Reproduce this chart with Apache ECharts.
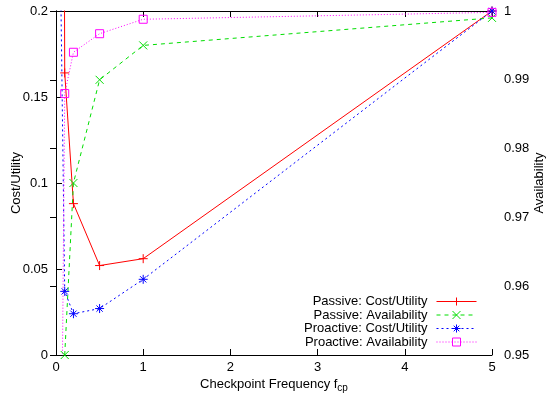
<!DOCTYPE html>
<html><head><meta charset="utf-8">
<script src="https://cdn.jsdelivr.net/npm/echarts@6/dist/echarts.min.js"></script>
<style>html,body{margin:0;padding:0;background:#fff}#c{width:548px;height:396px}</style>
</head><body><div id="c"></div>
<script>
var freqs = [0.05, 0.1, 0.2, 0.5, 1, 5];
var passiveCost = [1.0, 0.164, 0.088, 0.052, 0.056, 0.2];
var passiveAvail = [0.85, 0.95, 0.975, 0.990, 0.995, 0.999];
var proactiveCost = [0.23, 0.037, 0.024, 0.027, 0.044, 0.2];
var proactiveAvail = [0.914, 0.988, 0.994, 0.9967, 0.9988, 0.9998];
var seriesNames = ['Passive: Cost/Utility', 'Passive: Availability', 'Proactive: Cost/Utility', 'Proactive: Availability'];

function pts(ys){ return freqs.map(function(x,i){ return [x, ys[i]]; }); }
var FONT = '"Liberation Sans", Arial, sans-serif';
var FS = 13;
var chart = echarts.init(document.getElementById('c'), null, {renderer:'canvas'});
var plusPath = 'path://M0,5L10,5M5,0L5,10';
var crossPath = 'path://M0,0L10,10M10,0L0,10';
var starPath = 'path://M0,5L10,5M5,0L5,10M1.5,1.5L8.5,8.5M8.5,1.5L1.5,8.5';
function mk(name, data, yi, color, type, symbol, size){
  return {
    name: name, type: 'line', yAxisIndex: yi, data: data,
    symbol: symbol, symbolSize: size, showAllSymbol: true,
    lineStyle: {color: color, width: 1, type: type},
    itemStyle: {color: 'transparent', borderColor: color, borderWidth: 1},
    clip: true, animation: false
  };
}
chart.setOption({
  animation: false,
  grid: {left: 56, right: 56, top: 11, bottom: 41, containLabel: false, outerBoundsMode: 'none'},
  legend: {
    orient: 'vertical', right: 71, top: 295, align: 'right',
    itemWidth: 40, itemHeight: 10, itemGap: 0.5, padding: 0,
    lineStyle: {width: 1},
    itemStyle: {borderWidth: 1},
    textStyle: {fontFamily: FONT, fontSize: FS, lineHeight: 13, color: '#000', padding: [0, 4, 0, 0]},
    data: seriesNames
  },
  xAxis: [{
    type: 'value', min: 0, max: 5, interval: 1, position: 'bottom',
    name: '{a|Checkpoint Frequency f}{s|cp}', nameLocation: 'middle', nameGap: 20, nameMoveOverlap: false,
    nameTextStyle: {rich: {a: {fontFamily: FONT, fontSize: FS, color: '#000'}, s: {fontFamily: FONT, fontSize: 10, color: '#000', padding: [8,0,0,0]}}},
    axisLine: {lineStyle: {color: '#000', width: 1}},
    axisTick: {inside: true, length: 6, lineStyle: {color: '#000'}},
    axisLabel: {fontFamily: FONT, fontSize: FS, color: '#000', margin: 6},
    splitLine: {show: false}
  }, {
    type: 'value', min: 0, max: 5, interval: 1, position: 'top',
    axisLine: {lineStyle: {color: '#000', width: 1}},
    axisTick: {inside: true, length: 6, lineStyle: {color: '#000'}},
    axisLabel: {show: false}, splitLine: {show: false}
  }],
  yAxis: [{
    type: 'value', min: 0, max: 0.2, interval: 0.05, position: 'left',
    name: 'Cost/Utility', nameLocation: 'middle', nameGap: 33, nameRotate: 90, nameMoveOverlap: false,
    nameTextStyle: {fontFamily: FONT, fontSize: FS, color: '#000'},
    axisLine: {show: true, lineStyle: {color: '#000', width: 1}},
    axisTick: {show: true, inside: true, length: 6, lineStyle: {color: '#000'}},
    axisLabel: {fontFamily: FONT, fontSize: FS, color: '#000', margin: 8},
    splitLine: {show: false}
  }, {
    type: 'value', min: 0.95, max: 1, interval: 0.01, position: 'right',
    name: 'Availability', nameLocation: 'middle', nameGap: 41, nameRotate: 90, nameMoveOverlap: false,
    nameTextStyle: {fontFamily: FONT, fontSize: FS, color: '#000'},
    axisLine: {show: true, lineStyle: {color: '#000', width: 1}},
    axisTick: {show: true, inside: true, length: 6, lineStyle: {color: '#000'}},
    axisLabel: {fontFamily: FONT, fontSize: FS, color: '#000', margin: 12},
    splitLine: {show: false}
  }],
  series: [
    mk(seriesNames[0], pts(passiveCost), 0, '#ff0000', 'solid', plusPath, 9),
    mk(seriesNames[1], pts(passiveAvail), 1, '#00dd00', [4,4], crossPath, 8),
    mk(seriesNames[2], pts(proactiveCost), 0, '#0000ff', [2,3], starPath, 9),
    mk(seriesNames[3], pts(proactiveAvail), 1, '#ff00ff', [1,2], 'rect', 8)
  ]
});
</script></body></html>
